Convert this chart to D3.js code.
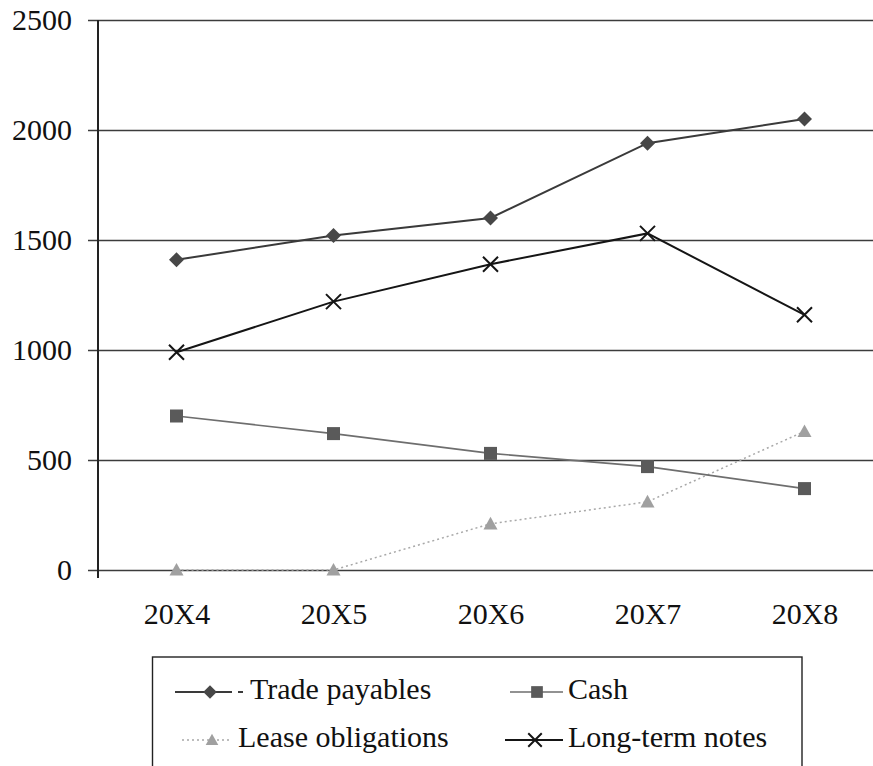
<!DOCTYPE html>
<html>
<head>
<meta charset="utf-8">
<script src="https://cdn.jsdelivr.net/npm/d3@7/dist/d3.min.js"></script>
<style>
  html, body { margin: 0; padding: 0; background: #fff; }
  svg { display: block; }
  text { font-family: "Liberation Serif", "DejaVu Serif", "Noto Serif", "Times New Roman", serif; fill: #111; }
</style>
</head>
<body>
<svg id="chart" width="873" height="766"></svg>
<script>
// Balance sheet items by year
const years = ["20X4", "20X5", "20X6", "20X7", "20X8"];
const tradePayables = [1410, 1520, 1600, 1940, 2050];
const cash = [700, 620, 530, 470, 370];
const leaseObligations = [0, 0, 210, 310, 630];
const longTermNotes = [990, 1220, 1390, 1530, 1160];
const yTicks = [0, 500, 1000, 1500, 2000, 2500];

const series = [
  { name: "Trade payables", values: tradePayables, line: "#3a3a3a", width: 2, dash: null, marker: "diamond", fill: "#474747" },
  { name: "Cash", values: cash, line: "#6e6e6e", width: 1.6, dash: null, marker: "square", fill: "#5a5a5a" },
  { name: "Lease obligations", values: leaseObligations, line: "#a8a8a8", width: 1.5, dash: "2,3", marker: "triangle", fill: "#a0a0a0" },
  { name: "Long-term notes", values: longTermNotes, line: "#151515", width: 2, dash: null, marker: "cross", fill: "#151515" }
];

const svg = d3.select("#chart");
const FONT = "'Liberation Serif', 'DejaVu Serif', 'Noto Serif', 'Times New Roman', serif";

// Pick a font size so that the serif face in use gives the intended label width
const probe = svg.append("text").attr("font-family", FONT).attr("font-size", 30).text("Long-term notes");
const probeWidth = probe.node().getComputedTextLength();
probe.remove();
const FS = Math.min(30, 30 * 204 / probeWidth);

const x = d3.scalePoint().domain(years).range([98, 883]).padding(0.5);
const y = d3.scaleLinear().domain([0, 2500]).range([570, 20]);

// Horizontal gridlines with tick stubs, and value labels
const yAxis = d3.axisLeft(y).tickValues(yTicks).tickSize(-(873 - 88)).tickPadding(16).tickFormat(d3.format("d"));
const gy = svg.append("g").attr("transform", "translate(88,0)").call(yAxis);
gy.select(".domain").remove();
gy.selectAll(".tick line").attr("stroke", "#3c3c3c").attr("stroke-width", 1.5);
gy.selectAll(".tick text").attr("font-size", FS).attr("fill", "#111").attr("font-family", FONT);

// Vertical axis line
svg.append("line")
  .attr("x1", 98).attr("x2", 98)
  .attr("y1", y(2500)).attr("y2", y(0) + 8)
  .attr("stroke", "#222").attr("stroke-width", 2);

// Category labels
const xAxis = d3.axisBottom(x).tickSize(0).tickPadding(33);
const gx = svg.append("g").attr("transform", `translate(0,${y(0)})`).call(xAxis);
gx.select(".domain").remove();
gx.selectAll(".tick text").attr("font-size", FS).attr("fill", "#111").attr("font-family", FONT);

// Marker shapes
function drawMarker(g, type, cx, cy, fill, scale) {
  const s = scale || 1;
  if (type === "diamond") {
    const r = 7.5 * s;
    g.append("path").attr("d", `M${cx},${cy - r}L${cx + r},${cy}L${cx},${cy + r}L${cx - r},${cy}Z`).attr("fill", fill);
  } else if (type === "square") {
    const r = 6.5 * s;
    g.append("rect").attr("x", cx - r).attr("y", cy - r).attr("width", 2 * r).attr("height", 2 * r).attr("fill", fill);
  } else if (type === "triangle") {
    const r = 7 * s;
    g.append("path").attr("d", `M${cx},${cy - r}L${cx + r},${cy + r * 0.8}L${cx - r},${cy + r * 0.8}Z`).attr("fill", fill);
  } else if (type === "cross") {
    const r = 7.5 * s;
    g.append("path").attr("d", `M${cx - r},${cy - r}L${cx + r},${cy + r}M${cx + r},${cy - r}L${cx - r},${cy + r}`)
      .attr("stroke", fill).attr("stroke-width", 2).attr("fill", "none");
  }
}

// Lines and markers; lighter series drawn first
const order = [2, 1, 0, 3];
const lineGen = d3.line().x((d, i) => x(years[i])).y(d => y(d));
order.forEach(k => {
  const s = series[k];
  const g = svg.append("g");
  g.append("path").datum(s.values).attr("d", lineGen)
    .attr("fill", "none").attr("stroke", s.line).attr("stroke-width", s.width)
    .attr("stroke-dasharray", s.dash);
  s.values.forEach((v, i) => drawMarker(g, s.marker, x(years[i]), y(v), s.fill));
});

// Legend
const legend = svg.append("g");
legend.append("rect").attr("x", 152.5).attr("y", 657).attr("width", 649.5).attr("height", 130)
  .attr("fill", "#fff").attr("stroke", "#222").attr("stroke-width", 1.4);

const legendPos = [
  { x1: 175, x2: 232, mx: 210, tx: 250, cy: 692, tail: [238, 243] },
  { x1: 510, x2: 563, mx: 537, tx: 568, cy: 692 },
  { x1: 182, x2: 232, mx: 212, tx: 238, cy: 740 },
  { x1: 505, x2: 563, mx: 535, tx: 568, cy: 740 }
];
series.forEach((s, k) => {
  const p = legendPos[k];
  legend.append("line").attr("x1", p.x1).attr("x2", p.x2).attr("y1", p.cy).attr("y2", p.cy)
    .attr("stroke", s.line).attr("stroke-width", s.width).attr("stroke-dasharray", s.dash);
  if (p.tail) {
    legend.append("line").attr("x1", p.tail[0]).attr("x2", p.tail[1]).attr("y1", p.cy).attr("y2", p.cy)
      .attr("stroke", s.line).attr("stroke-width", s.width);
  }
  drawMarker(legend, s.marker, p.mx, p.cy, s.fill, 0.9);
  legend.append("text").attr("x", p.tx).attr("y", p.cy + 7).attr("font-size", FS)
    .attr("font-family", FONT).text(s.name);
});
</script>
</body>
</html>
